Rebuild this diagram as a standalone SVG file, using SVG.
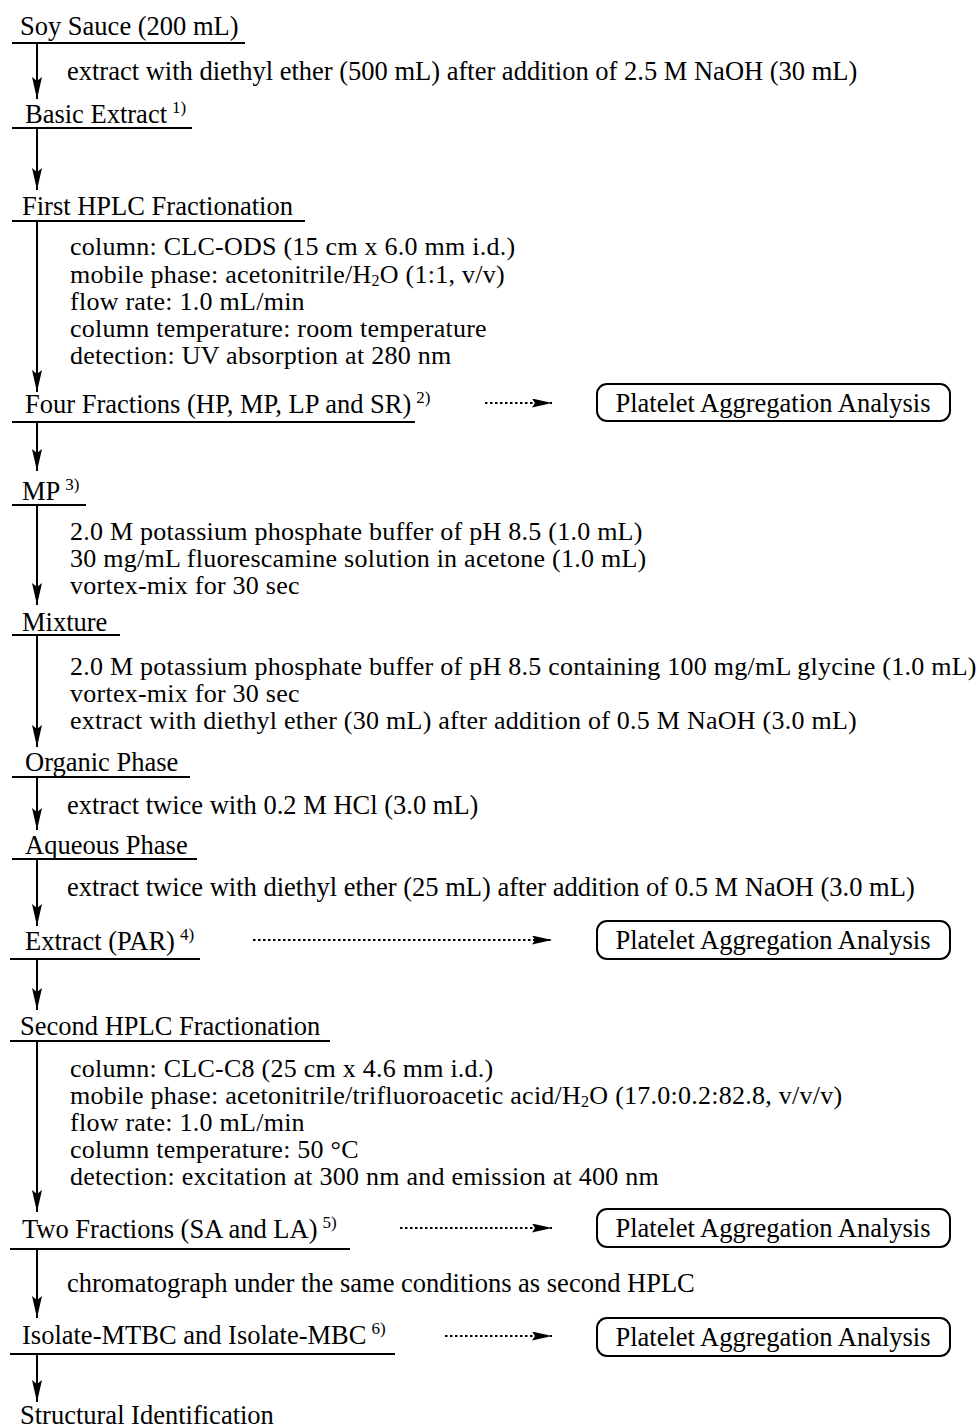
<svg xmlns="http://www.w3.org/2000/svg" width="977" height="1428" viewBox="0 0 977 1428">
<style>
text{font-family:"Liberation Serif","Times New Roman",serif;font-size:26.5px;fill:#000}
.p{font-size:26px;letter-spacing:0.25px}
.sup{font-size:17px;letter-spacing:0}
.sub{font-size:16px}
.ul{stroke:#000;stroke-width:2}
.shaft{stroke:#000;stroke-width:2;fill:none;marker-end:url(#ah)}
.dot{stroke:#000;stroke-width:2;fill:none;stroke-dasharray:2.5 2.5;marker-end:url(#dh)}
.box{fill:#fff;stroke:#000;stroke-width:2}
.bt{text-anchor:middle}
</style>
<defs>
<marker id="ah" viewBox="0 0 22 10" markerWidth="22" markerHeight="10" refX="22" refY="5" orient="auto" markerUnits="userSpaceOnUse"><path d="M0,0 L22,5 L0,10 L4,5 z" fill="#000"/></marker>
<marker id="dh" viewBox="0 0 20 9" markerWidth="20" markerHeight="9" refX="20" refY="4.5" orient="auto" markerUnits="userSpaceOnUse"><path d="M0,0 L20,4.5 L0,9 L3,4.5 z" fill="#000"/></marker>
</defs>
<rect width="977" height="1428" fill="#fff"/>
<g id="connectors">
<line class="shaft" x1="37" y1="43" x2="37" y2="99"/>
<line class="shaft" x1="37" y1="128" x2="37" y2="190"/>
<line class="shaft" x1="37" y1="221" x2="37" y2="392"/>
<line class="shaft" x1="37" y1="422" x2="37" y2="471"/>
<line class="shaft" x1="37" y1="505" x2="37" y2="605"/>
<line class="shaft" x1="37" y1="635" x2="37" y2="747"/>
<line class="shaft" x1="37" y1="777" x2="37" y2="830"/>
<line class="shaft" x1="37" y1="859" x2="37" y2="926"/>
<line class="shaft" x1="37" y1="959" x2="37" y2="1010"/>
<line class="shaft" x1="37" y1="1041" x2="37" y2="1212"/>
<line class="shaft" x1="37" y1="1249" x2="37" y2="1318"/>
<line class="shaft" x1="37" y1="1354" x2="37" y2="1402"/>
<line class="dot" x1="485" y1="403" x2="552" y2="403"/>
<line class="dot" x1="253" y1="940" x2="552" y2="940"/>
<line class="dot" x1="400" y1="1228" x2="552" y2="1228"/>
<line class="dot" x1="445" y1="1336" x2="552" y2="1336"/>
</g>
<g id="n-soy"><text x="20" y="35">Soy Sauce (200 mL)</text><line class="ul" x1="12" y1="43" x2="245" y2="43"/></g>
<g id="s-1"><text x="67" y="80">extract with diethyl ether (500 mL) after addition of 2.5 M NaOH (30 mL)</text></g>
<g id="n-basic"><text x="25" y="123">Basic Extract<tspan class="sup" dx="5" dy="-10">1)</tspan></text><line class="ul" x1="12" y1="128" x2="192" y2="128"/></g>
<g id="n-hplc1"><text x="22" y="215">First HPLC Fractionation</text><line class="ul" x1="12" y1="221" x2="305" y2="221"/></g>
<g id="s-hplc1">
<text class="p" x="70" y="255">column: CLC-ODS (15 cm x 6.0 mm i.d.)</text>
<text class="p" x="70" y="283">mobile phase: acetonitrile/H<tspan class="sub" dy="3">2</tspan><tspan dy="-3">O (1:1, v/v)</tspan></text>
<text class="p" x="70" y="310">flow rate: 1.0 mL/min</text>
<text class="p" x="70" y="337">column temperature: room temperature</text>
<text class="p" x="70" y="364">detection: UV absorption at 280 nm</text>
</g>
<g id="n-four"><text x="25" y="413">Four Fractions (HP, MP, LP and SR)<tspan class="sup" dx="5" dy="-10">2)</tspan></text><line class="ul" x1="12" y1="422" x2="415" y2="422"/></g>
<g id="b-1"><rect class="box" x="597" y="384" width="353" height="37" rx="10"/><text class="bt" x="773" y="412">Platelet Aggregation Analysis</text></g>
<g id="n-mp"><text x="22" y="500">MP<tspan class="sup" dx="5" dy="-10">3)</tspan></text><line class="ul" x1="12" y1="505" x2="86" y2="505"/></g>
<g id="s-mp">
<text class="p" x="70" y="540">2.0 M potassium phosphate buffer of pH 8.5 (1.0 mL)</text>
<text class="p" x="70" y="567">30 mg/mL fluorescamine solution in acetone (1.0 mL)</text>
<text class="p" x="70" y="594">vortex-mix for 30 sec</text>
</g>
<g id="n-mix"><text x="22" y="631">Mixture</text><line class="ul" x1="12" y1="635" x2="120" y2="635"/></g>
<g id="s-mix">
<text class="p" x="70" y="675">2.0 M potassium phosphate buffer of pH 8.5 containing 100 mg/mL glycine (1.0 mL)</text>
<text class="p" x="70" y="702">vortex-mix for 30 sec</text>
<text class="p" x="70" y="729">extract with diethyl ether (30 mL) after addition of 0.5 M NaOH (3.0 mL)</text>
</g>
<g id="n-org"><text x="25" y="771">Organic Phase</text><line class="ul" x1="12" y1="777" x2="190" y2="777"/></g>
<g id="s-org"><text x="67" y="814">extract twice with 0.2 M HCl (3.0 mL)</text></g>
<g id="n-aq"><text x="25" y="854">Aqueous Phase</text><line class="ul" x1="12" y1="859" x2="197" y2="859"/></g>
<g id="s-aq"><text x="67" y="896">extract twice with diethyl ether (25 mL) after addition of 0.5 M NaOH (3.0 mL)</text></g>
<g id="n-par"><text x="25" y="950">Extract (PAR)<tspan class="sup" dx="5" dy="-10">4)</tspan></text><line class="ul" x1="10" y1="959" x2="200" y2="959"/></g>
<g id="b-2"><rect class="box" x="597" y="921" width="353" height="38" rx="10"/><text class="bt" x="773" y="949">Platelet Aggregation Analysis</text></g>
<g id="n-hplc2"><text x="20" y="1035">Second HPLC Fractionation</text><line class="ul" x1="10" y1="1041" x2="330" y2="1041"/></g>
<g id="s-hplc2">
<text class="p" x="70" y="1077">column: CLC-C8 (25 cm x 4.6 mm i.d.)</text>
<text class="p" x="70" y="1104">mobile phase: acetonitrile/trifluoroacetic acid/H<tspan class="sub" dy="3">2</tspan><tspan dy="-3">O (17.0:0.2:82.8, v/v/v)</tspan></text>
<text class="p" x="70" y="1131">flow rate: 1.0 mL/min</text>
<text class="p" x="70" y="1158">column temperature: 50 °C</text>
<text class="p" x="70" y="1185">detection: excitation at 300 nm and emission at 400 nm</text>
</g>
<g id="n-two"><text x="22" y="1238">Two Fractions (SA and LA)<tspan class="sup" dx="5" dy="-10">5)</tspan></text><line class="ul" x1="10" y1="1249" x2="350" y2="1249"/></g>
<g id="b-3"><rect class="box" x="597" y="1209" width="353" height="38" rx="10"/><text class="bt" x="773" y="1237">Platelet Aggregation Analysis</text></g>
<g id="s-two"><text x="67" y="1292">chromatograph under the same conditions as second HPLC</text></g>
<g id="n-iso"><text x="22" y="1344">Isolate-MTBC and Isolate-MBC<tspan class="sup" dx="5" dy="-10">6)</tspan></text><line class="ul" x1="10" y1="1354" x2="395" y2="1354"/></g>
<g id="b-4"><rect class="box" x="597" y="1318" width="353" height="38" rx="10"/><text class="bt" x="773" y="1346">Platelet Aggregation Analysis</text></g>
<g id="n-struct"><text x="20" y="1424">Structural Identification</text></g>
</svg>
